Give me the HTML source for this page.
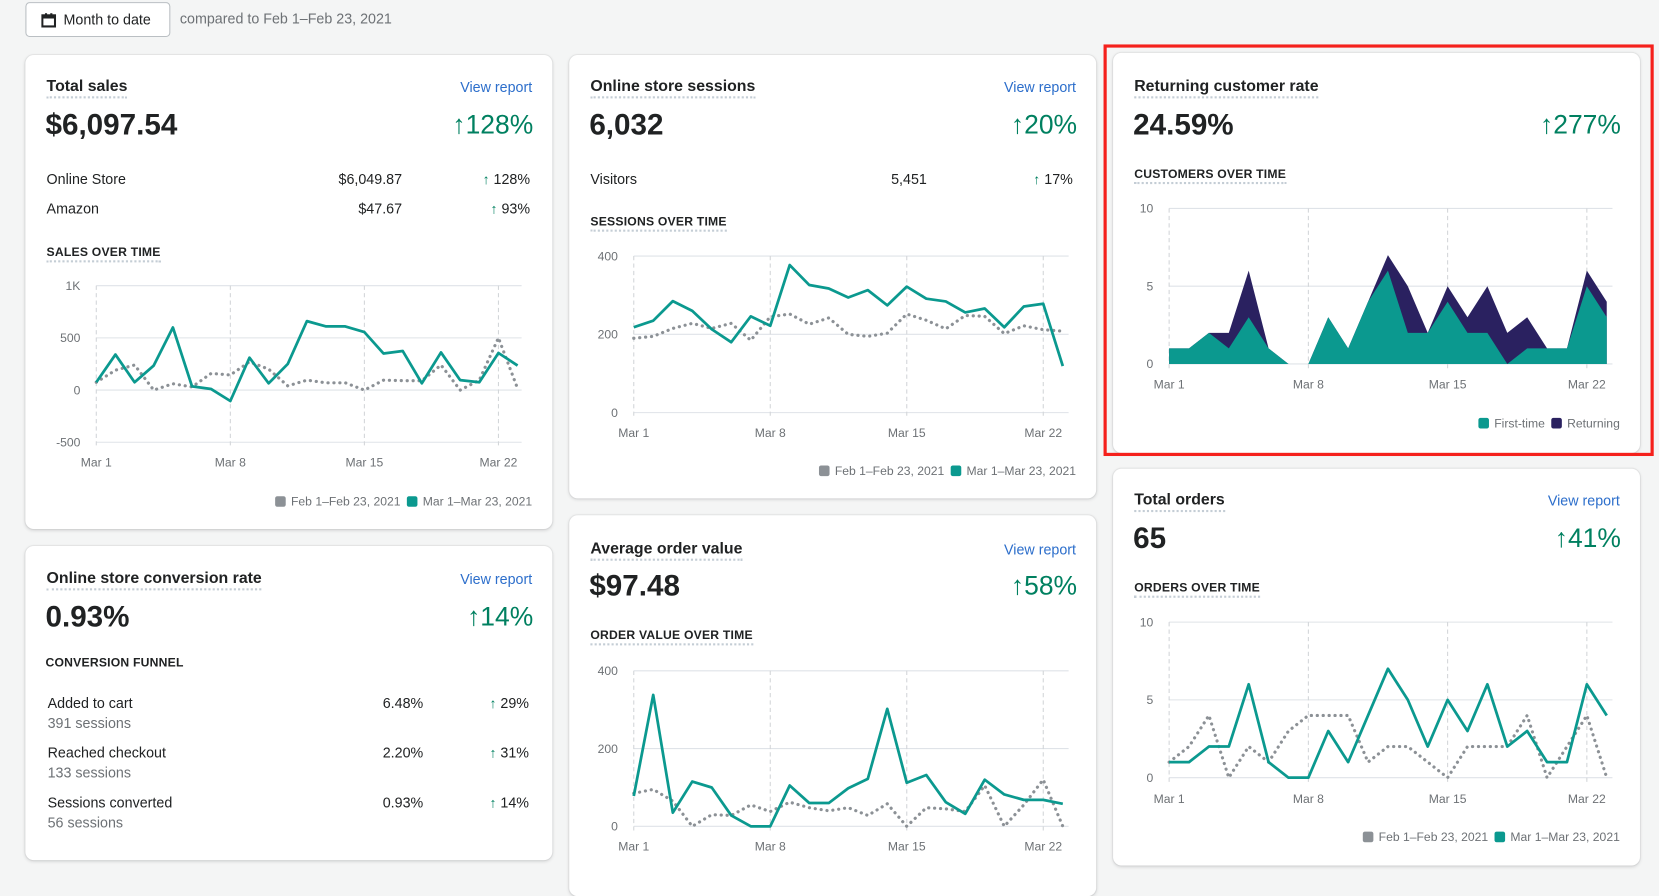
<!DOCTYPE html>
<html><head><meta charset="utf-8">
<style>
html,body{margin:0;padding:0;width:1659px;height:876px;overflow:hidden;background:#f4f5f5;}
#root{position:absolute;left:0;top:0;width:1568px;height:828px;transform:scale(1.05804);transform-origin:0 0;font-family:"Liberation Sans",sans-serif;color:#202223;}
.card{position:absolute;background:#fff;border-radius:8px;box-shadow:0 0 0 1px rgba(63,63,68,0.05),0 1px 3px rgba(63,63,68,0.18);}
.t{position:absolute;white-space:nowrap;line-height:20px;}
.title{font-size:15px;font-weight:bold;border-bottom:2px dotted #c4cdd5;line-height:18px;}
.sub{font-size:11.5px;font-weight:bold;letter-spacing:0.2px;line-height:14px;}
.subu{border-bottom:2px dotted #c4cdd5;}
.big{font-size:28px;font-weight:bold;line-height:30px;}
.pct{font-size:25px;color:#008060;line-height:30px;}
.link{font-size:13.5px;color:#2c6ecb;}
.row{font-size:13.5px;}
.gray{color:#6d7175;}
.sm{color:#008060;font-size:13px;}
</style></head><body>
<div id="root">
<div class="t" style="left:24px;top:2px;width:135px;height:31px;border:1px solid #babfc3;border-radius:4px;background:#fff;line-height:31px;font-size:13.5px;">
  <svg width="14" height="14" style="position:absolute;left:14px;top:9px" viewBox="0 0 14 14"><rect x="1" y="2.5" width="12" height="10.5" fill="none" stroke="#202223" stroke-width="2"/><rect x="1" y="2.5" width="12" height="3" fill="#202223"/><rect x="3.5" y="0.5" width="2" height="3" fill="#202223"/><rect x="8.5" y="0.5" width="2" height="3" fill="#202223"/></svg>
  <span style="position:absolute;left:35px;">Month to date</span></div>
<div class="t gray" style="left:170px;top:8px;font-size:13.5px;">compared to Feb 1–Feb 23, 2021</div>

<div class="card" style="left:24px;top:52px;width:498px;height:448px;"></div>
<div class="card" style="left:24px;top:516px;width:498px;height:297px;"></div>
<div class="card" style="left:538px;top:52px;width:498px;height:419px;"></div>
<div class="card" style="left:538px;top:487px;width:498px;height:360px;"></div>
<div class="card" style="left:1052px;top:50px;width:498px;height:378px;"></div>
<div class="card" style="left:1052px;top:443px;width:498px;height:375px;"></div>
<div style="position:absolute;left:1043px;top:42px;width:514px;height:383px;border:3px solid #f5211c;"></div>

<!-- Total sales -->
<div class="t title" style="left:44px;top:73px;">Total sales</div>
<div class="t link" style="right:1065px;top:73px;">View report</div>
<div class="t big" style="left:43px;top:103px;">$6,097.54</div>
<div class="t pct" style="right:1064px;top:103px;">↑128%</div>
<div class="t row" style="left:44px;top:160px;">Online Store</div>
<div class="t row" style="right:1188px;top:160px;">$6,049.87</div>
<div class="t row" style="right:1067px;top:160px;"><span class="sm">↑</span> 128%</div>
<div class="t row" style="left:44px;top:188px;">Amazon</div>
<div class="t row" style="right:1188px;top:188px;">$47.67</div>
<div class="t row" style="right:1067px;top:188px;"><span class="sm">↑</span> 93%</div>
<div class="t sub subu" style="left:44px;top:232px;">SALES OVER TIME</div>

<!-- Conversion -->
<div class="t title" style="left:44px;top:538px;">Online store conversion rate</div>
<div class="t link" style="right:1065px;top:538px;">View report</div>
<div class="t big" style="left:43px;top:568px;">0.93%</div>
<div class="t pct" style="right:1064px;top:568px;">↑14%</div>
<div class="t sub" style="left:43px;top:620px;">CONVERSION FUNNEL</div>
<div class="t row" style="left:45px;top:655px;">Added to cart</div>
<div class="t row gray" style="left:45px;top:674px;">391 sessions</div>
<div class="t row" style="right:1168px;top:655px;">6.48%</div>
<div class="t row" style="right:1068px;top:655px;"><span class="sm">↑</span> 29%</div>
<div class="t row" style="left:45px;top:702px;">Reached checkout</div>
<div class="t row gray" style="left:45px;top:721px;">133 sessions</div>
<div class="t row" style="right:1168px;top:702px;">2.20%</div>
<div class="t row" style="right:1068px;top:702px;"><span class="sm">↑</span> 31%</div>
<div class="t row" style="left:45px;top:749px;">Sessions converted</div>
<div class="t row gray" style="left:45px;top:768px;">56 sessions</div>
<div class="t row" style="right:1168px;top:749px;">0.93%</div>
<div class="t row" style="right:1068px;top:749px;"><span class="sm">↑</span> 14%</div>

<!-- Sessions -->
<div class="t title" style="left:558px;top:73px;">Online store sessions</div>
<div class="t link" style="right:551px;top:73px;">View report</div>
<div class="t big" style="left:557px;top:103px;">6,032</div>
<div class="t pct" style="right:550px;top:103px;">↑20%</div>
<div class="t row" style="left:558px;top:160px;">Visitors</div>
<div class="t row" style="right:692px;top:160px;">5,451</div>
<div class="t row" style="right:554px;top:160px;"><span class="sm">↑</span> 17%</div>
<div class="t sub subu" style="left:558px;top:203px;">SESSIONS OVER TIME</div>

<!-- AOV -->
<div class="t title" style="left:558px;top:510px;">Average order value</div>
<div class="t link" style="right:551px;top:510px;">View report</div>
<div class="t big" style="left:557px;top:539px;">$97.48</div>
<div class="t pct" style="right:550px;top:539px;">↑58%</div>
<div class="t sub subu" style="left:558px;top:594px;">ORDER VALUE OVER TIME</div>

<!-- Returning -->
<div class="t title" style="left:1072px;top:73px;">Returning customer rate</div>
<div class="t big" style="left:1071px;top:103px;">24.59%</div>
<div class="t pct" style="right:36px;top:103px;">↑277%</div>
<div class="t sub subu" style="left:1072px;top:158px;">CUSTOMERS OVER TIME</div>

<!-- Orders -->
<div class="t title" style="left:1072px;top:464px;">Total orders</div>
<div class="t link" style="right:37px;top:464px;">View report</div>
<div class="t big" style="left:1071px;top:494px;">65</div>
<div class="t pct" style="right:36px;top:494px;">↑41%</div>
<div class="t sub subu" style="left:1072px;top:549px;">ORDERS OVER TIME</div>

<svg id="charts" width="1568" height="828" style="position:absolute;left:0;top:0;font-family:'Liberation Sans',sans-serif;"></svg>
</div>
<script>
const xLabels = ["Mar 1","Mar 8","Mar 15","Mar 22"];
const xLabelIdx = [0,7,14,21];
const salesTicks = [1000,500,0,-500];
const salesTickLabels = ["1K","500","0","-500"];
const salesCurrent = [75,340,75,235,600,35,10,-105,310,65,250,660,610,610,555,350,375,65,360,95,75,355,235];
const salesPrevious = [75,190,240,0,60,30,160,145,270,200,40,95,70,70,0,95,90,90,240,0,95,500,15];
const sessionTicks = [400,200,0];
const sessionsCurrent = [218,235,285,260,213,180,246,222,377,326,317,294,313,274,322,291,284,256,266,218,271,278,119];
const sessionsPrevious = [190,195,215,228,215,228,185,245,252,226,242,200,195,203,252,236,214,248,246,202,222,212,208];
const aovTicks = [400,200,0];
const aovCurrent = [78,338,35,115,100,28,0,0,105,60,60,98,122,302,112,132,62,32,120,82,68,68,58];
const aovPrevious = [85,95,65,0,30,28,55,38,62,48,40,48,28,58,0,48,45,38,105,0,55,120,0];
const countTicks = [10,5,0];
const firstTime = [1,1,2,1,3,1,0,0,3,1,4,6,2,2,4,2,2,0,1,1,1,5,3];
const returning = [0,0,0,1,3,0,0,0,0,0,0,1,3,0,1,1,3,2,2,0,0,1,1];
const ordersCurrent = [1,1,2,2,6,1,0,0,3,1,4,7,5,2,5,3,6,2,3,1,1,6,4];
const ordersPrevious = [1,2,4,0,2,1,3,4,4,4,1,2,2,1,0,2,2,2,4,0,2,4,0];
const legendCompare = ["Feb 1–Feb 23, 2021","Mar 1–Mar 23, 2021"];
const legendCustomers = ["First-time","Returning"];

const NS = "http://www.w3.org/2000/svg";
const svg = document.getElementById('charts');
const TEAL = "#0b998f", NAVY = "#2a2160", GRAY = "#8c9196";
function mk(tag, attrs, parent){const e=document.createElementNS(NS,tag);for(const k in attrs)e.setAttribute(k,attrs[k]);(parent||svg).appendChild(e);return e;}

function makeAxes(cfg){
  const sx = i => cfg.x0 + i*cfg.step;
  const sy = v => cfg.y0 - (v - cfg.vmin)*(cfg.yTop - cfg.y0)/(cfg.vmin - cfg.vmax);
  cfg.ticks.forEach((t,k)=>{
    const g = mk('line',{x1:cfg.x0,x2:cfg.xEnd,y1:sy(t),y2:sy(t),stroke:'#dfe3e8','stroke-width':1});
    
    
    const tx = mk('text',{x:cfg.x0-15,y:sy(t)+4,'text-anchor':'end','font-size':11.5,fill:'#6d7175'});
    tx.textContent = cfg.tickLabels ? cfg.tickLabels[k] : String(t);
    
    
  });
  xLabelIdx.forEach((i,k)=>{
    const g = mk('line',{x1:sx(i),x2:sx(i),y1:sy(cfg.ticks[0]),y2:sy(cfg.ticks[cfg.ticks.length-1])+6,stroke:'#d2d5d8','stroke-width':1,'stroke-dasharray':'4 3'});
    
    
    const tx = mk('text',{x:sx(i),y:cfg.xLabY,'text-anchor':'middle','font-size':11.5,fill:'#6d7175'});
    tx.textContent = xLabels[k];
    
    
  });
  return {sx,sy};
}
function line(ax, data, dotted, name){
  const d = data.map((v,i)=>(i?'L':'M')+ax.sx(i).toFixed(1)+','+ax.sy(v).toFixed(1)).join(' ');
  const p = mk('path',dotted?{d,fill:'none',stroke:GRAY,'stroke-width':3,'stroke-dasharray':'0.1 5.5','stroke-linecap':'round','stroke-linejoin':'round'}:{d,fill:'none',stroke:TEAL,'stroke-width':2.6,'stroke-linejoin':'round'});
  
  
}
function legend(rightX, y, labels, colors, name){
  let x = rightX;
  for(let k=labels.length-1;k>=0;k--){
    const tx = mk('text',{x:x,y:y+4,'text-anchor':'end','font-size':11.5,fill:'#6d7175'});
    tx.textContent = labels[k];
    
    
    const w = tx.getComputedTextLength();
    const r = mk('rect',{x:x-w-15,y:y-5,width:10,height:10,rx:2,fill:colors[k]});
    
    
    x = x - w - 21;
  }
}

const axS = makeAxes({x0:91,step:18.1,xEnd:493,y0:418,yTop:270,vmin:-500,vmax:1000,ticks:salesTicks,tickLabels:salesTickLabels,xLabY:441});
line(axS,salesPrevious,true,'sales-previous-line');
line(axS,salesCurrent,false,'sales-current-line');
legend(503,474,legendCompare,[GRAY,TEAL],'sales-legend');

const axSe = makeAxes({x0:599,step:18.43,xEnd:1010,y0:390,yTop:242,vmin:0,vmax:400,ticks:sessionTicks,xLabY:413});
line(axSe,sessionsPrevious,true,'sessions-previous-line');
line(axSe,sessionsCurrent,false,'sessions-current-line');
legend(1017,445,legendCompare,[GRAY,TEAL],'sessions-legend');

const axA = makeAxes({x0:599,step:18.43,xEnd:1010,y0:781,yTop:634,vmin:0,vmax:400,ticks:aovTicks,xLabY:804});
line(axA,aovPrevious,true,'aov-previous-line');
line(axA,aovCurrent,false,'aov-current-line');

const axR = makeAxes({x0:1105,step:18.8,xEnd:1524,y0:344,yTop:197,vmin:0,vmax:10,ticks:countTicks,xLabY:367});
(function(){
  const n=firstTime.length;
  const tot = firstTime.map((v,i)=>v+returning[i]);
  let d1='M'+axR.sx(0)+','+axR.sy(0);
  tot.forEach((v,i)=>{d1+=' L'+axR.sx(i).toFixed(1)+','+axR.sy(v).toFixed(1);});
  d1+=' L'+axR.sx(n-1)+','+axR.sy(0)+' Z';
  const a1=mk('path',{d:d1,fill:NAVY});
  
  
  let d2='M'+axR.sx(0)+','+axR.sy(0);
  firstTime.forEach((v,i)=>{d2+=' L'+axR.sx(i).toFixed(1)+','+axR.sy(v).toFixed(1);});
  d2+=' L'+axR.sx(n-1)+','+axR.sy(0)+' Z';
  const a2=mk('path',{d:d2,fill:TEAL});
  
  
})();
legend(1531,400,legendCustomers,[TEAL,NAVY],'customers-legend');

const axO = makeAxes({x0:1105,step:18.8,xEnd:1524,y0:735,yTop:588,vmin:0,vmax:10,ticks:countTicks,xLabY:759});
line(axO,ordersPrevious,true,'orders-previous-line');
line(axO,ordersCurrent,false,'orders-current-line');
legend(1531,791,legendCompare,[GRAY,TEAL],'orders-legend');
</script>
</body></html>
